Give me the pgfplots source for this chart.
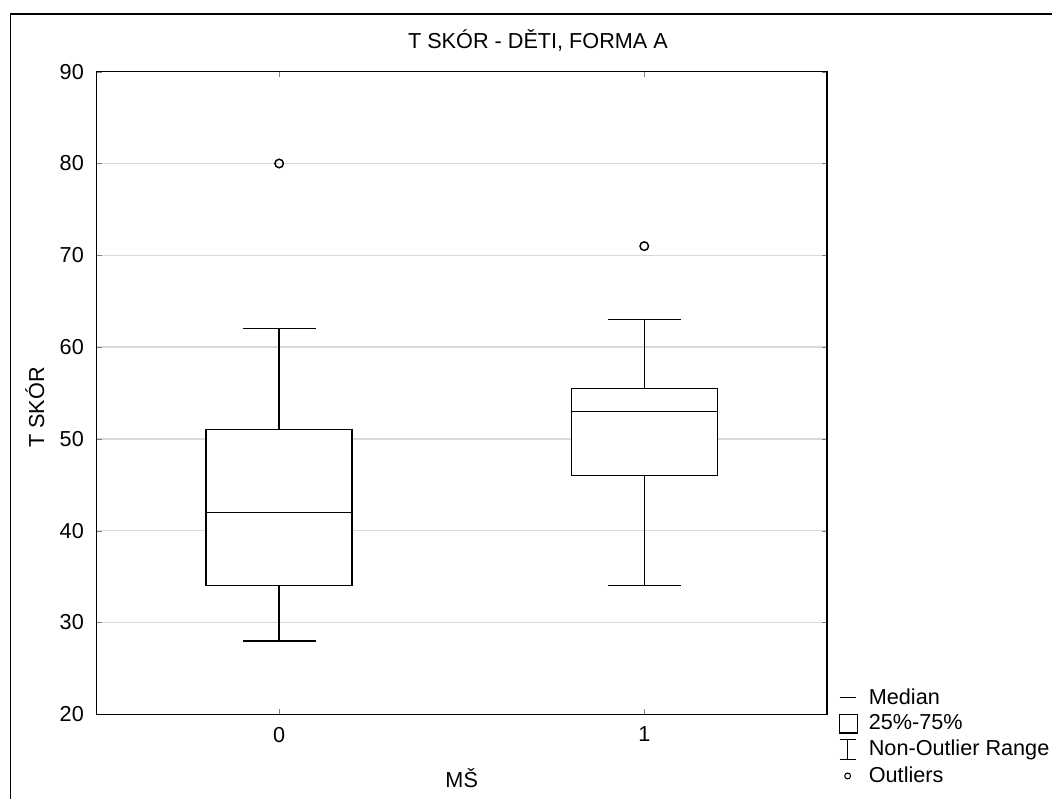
\documentclass[border=0pt]{standalone}
\usepackage{pgfplots}
\pgfplotsset{compat=1.18}
\usepackage{fontspec}
\setmainfont{Liberation Sans}
\begin{document}
\fontsize{16.3}{19.5}\selectfont
\begin{tikzpicture}
\begin{axis}[
  scale only axis, width=549.75pt, height=483.75pt,
  xmin=-0.5, xmax=1.5, ymin=20, ymax=90,
  xtick={0,1}, ytick={20,30,...,90},
  tick align=inside, major tick length=4pt,
  axis line style={line width=1.1pt},
  ymajorgrids, grid style={line width=1pt, black!15},
  /pgf/number format/assume math mode=true,
  yticklabel style={xshift=-4pt},
  xticklabel style={yshift=-4pt},
  title={T SKÓR - DĚTI, FORMA A},
  title style={at={(axis description cs:0.6044,1.036)}, anchor=center},
  xlabel={MŠ},
  xlabel style={at={(axis description cs:0.5,-0.0992)}, anchor=center},
  ylabel={T SKÓR},
  ylabel style={at={(axis description cs:-0.0846,0.4775)}, anchor=center},
  legend style={at={(axis description cs:1.011,0.049)}, anchor=north west, draw=none, fill=none,
    row sep=1.5pt, /tikz/every odd column/.append style={column sep=6pt}},
  legend cell align=left,
  cycle list={{black, solid, mark=none}},
  every axis plot/.append style={forget plot, black, line width=1.1pt, line join=miter},
]
% group 0: whiskers
\addplot coordinates {(0,51) (0,62)};
\addplot coordinates {(0,34) (0,28)};
\addplot coordinates {(-0.1,62) (0.1,62)};
\addplot coordinates {(-0.1,28) (0.1,28)};
% group 0: box and median
\addplot[fill=white] coordinates {(-0.2,34) (0.2,34) (0.2,51) (-0.2,51) (-0.2,34)};
\addplot coordinates {(-0.2,42) (0.2,42)};
% group 1: whiskers
\addplot coordinates {(1,55.5) (1,63)};
\addplot coordinates {(1,46) (1,34)};
\addplot coordinates {(0.9,63) (1.1,63)};
\addplot coordinates {(0.9,34) (1.1,34)};
% group 1: box and median
\addplot[fill=white] coordinates {(0.8,46) (1.2,46) (1.2,55.5) (0.8,55.5) (0.8,46)};
\addplot coordinates {(0.8,53) (1.2,53)};
% outliers
\addplot[only marks, mark=o, mark size=3.2pt] coordinates {(0,80) (1,71)};
\addlegendimage{legend image code/.code={\draw[line width=0.9pt] (0pt,0pt) -- (12pt,0pt);}}
\addlegendentry{Median}
\addlegendimage{legend image code/.code={\draw[line width=0.9pt] (0pt,-7pt) rectangle (13.5pt,7pt);}}
\addlegendentry{25\%-75\%}
\addlegendimage{legend image code/.code={\draw[line width=0.9pt] (0pt,7.5pt) -- (12pt,7.5pt) (6pt,7.5pt) -- (6pt,-7.5pt) (0pt,-7.5pt) -- (12pt,-7.5pt);}}
\addlegendentry{Non-Outlier Range}
\addlegendimage{legend image code/.code={\draw[line width=0.8pt] (6pt,0pt) circle (2.2pt);}}
\addlegendentry{Outliers}
\end{axis}
\draw[line width=1.1pt] (-64.85pt,-63.75pt) -- (-64.85pt,527.25pt) -- (719.25pt,527.25pt);
\path (-72.75pt,-63.75pt) rectangle (719.25pt,537.75pt);
\end{tikzpicture}
\end{document}
